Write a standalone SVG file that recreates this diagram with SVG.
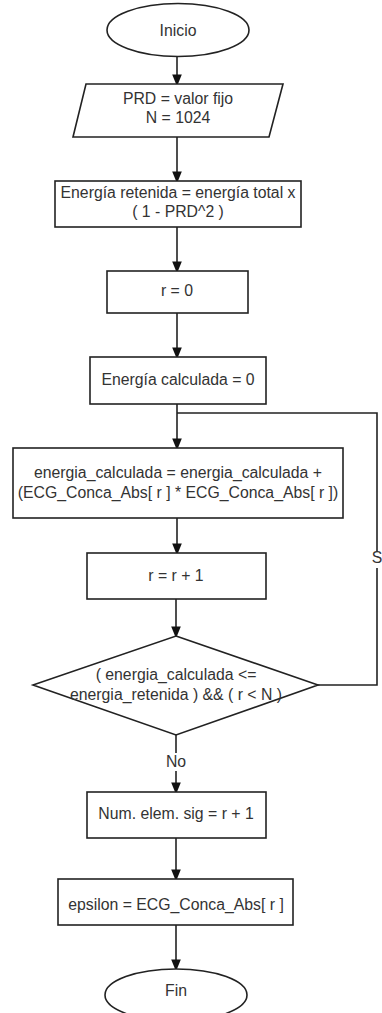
<svg xmlns="http://www.w3.org/2000/svg" width="382" height="1013" viewBox="0 0 382 1013">
  <style>
    .shape { fill: #ffffff; stroke: #222222; stroke-width: 1.6; }
    .edge { fill: none; stroke: #222222; stroke-width: 1.6; }
    .label { font-family: "Liberation Sans", Arial, sans-serif; font-size: 15.8px; fill: #333333; text-anchor: middle; }
  </style>
  <defs>
    <marker id="arrow" markerWidth="12" markerHeight="15" refX="12" refY="6" orient="auto" markerUnits="userSpaceOnUse" viewBox="0 0 15 12">
      <path d="M0,0 L15,6 L0,12 Z" fill="#111111"/>
    </marker>
  </defs>
  <rect width="382" height="1013" fill="#ffffff"/>

  <g id="connectors">
    <line class="edge" x1="177" y1="57" x2="177" y2="84" marker-end="url(#arrow)"/>
    <line class="edge" x1="177" y1="137" x2="177" y2="181" marker-end="url(#arrow)"/>
    <line class="edge" x1="177" y1="227" x2="177" y2="271" marker-end="url(#arrow)"/>
    <line class="edge" x1="177" y1="313" x2="177" y2="357" marker-end="url(#arrow)"/>
    <line class="edge" x1="177" y1="404" x2="177" y2="448" marker-end="url(#arrow)"/>
    <path class="edge" d="M318,685 H377 V413 H177"/>
    <rect x="369" y="551" width="16" height="17" fill="#ffffff"/>
    <text class="label" x="377" y="563">S</text>
    <line class="edge" x1="177" y1="518" x2="177" y2="553" marker-end="url(#arrow)"/>
    <line class="edge" x1="176" y1="599" x2="176" y2="636" marker-end="url(#arrow)"/>
    <line class="edge" x1="176" y1="735" x2="176" y2="792" marker-end="url(#arrow)"/>
    <rect x="162" y="753" width="28" height="18" fill="#ffffff"/>
    <text class="label" x="176" y="767">No</text>
    <line class="edge" x1="176" y1="838" x2="176" y2="879" marker-end="url(#arrow)"/>
    <line class="edge" x1="176" y1="925" x2="176" y2="969" marker-end="url(#arrow)"/>
  </g>

  <g id="inicio">
    <ellipse class="shape" cx="178" cy="30" rx="71" ry="26.5"/>
    <text class="label" x="178" y="36">Inicio</text>
  </g>

  <g id="datos">
    <polygon class="shape" points="86,84 283,84 269,137 73,137"/>
    <text class="label" x="178" y="104">PRD = valor fijo</text>
    <text class="label" x="178" y="123">N = 1024</text>
  </g>

  <g id="energia-retenida">
    <rect class="shape" x="55" y="181" width="246" height="46"/>
    <text class="label" x="178" y="198">Energía retenida = energía total x</text>
    <text class="label" x="178" y="217">( 1 - PRD^2 )</text>
  </g>

  <g id="r-cero">
    <rect class="shape" x="107" y="271" width="141" height="42"/>
    <text class="label" x="177" y="296">r = 0</text>
  </g>

  <g id="energia-calculada-cero">
    <rect class="shape" x="90" y="357" width="176" height="47"/>
    <text class="label" x="178" y="385">Energía calculada = 0</text>
  </g>

  <g id="acumular">
    <rect class="shape" x="13" y="448" width="330" height="70"/>
    <text class="label" x="178" y="478">energia_calculada = energia_calculada +</text>
    <text class="label" x="178" y="498">(ECG_Conca_Abs[ r ] * ECG_Conca_Abs[ r ])</text>
  </g>

  <g id="incremento">
    <rect class="shape" x="87" y="553" width="179" height="46"/>
    <text class="label" x="176" y="581">r = r + 1</text>
  </g>

  <g id="condicion">
    <polygon class="shape" points="176,636 318,685 176,735 33,685"/>
    <text class="label" x="176" y="680">( energia_calculada &lt;=</text>
    <text class="label" x="176" y="700">energia_retenida ) &amp;&amp; ( r &lt; N )</text>
  </g>

  <g id="num-elem">
    <rect class="shape" x="87" y="792" width="179" height="46"/>
    <text class="label" x="176" y="819">Num. elem. sig = r + 1</text>
  </g>

  <g id="epsilon">
    <rect class="shape" x="58" y="879" width="235" height="46"/>
    <text class="label" x="176" y="910">epsilon = ECG_Conca_Abs[ r ]</text>
  </g>

  <g id="fin">
    <ellipse class="shape" cx="176" cy="995" rx="71" ry="26"/>
    <text class="label" x="176" y="996">Fin</text>
  </g>
</svg>
